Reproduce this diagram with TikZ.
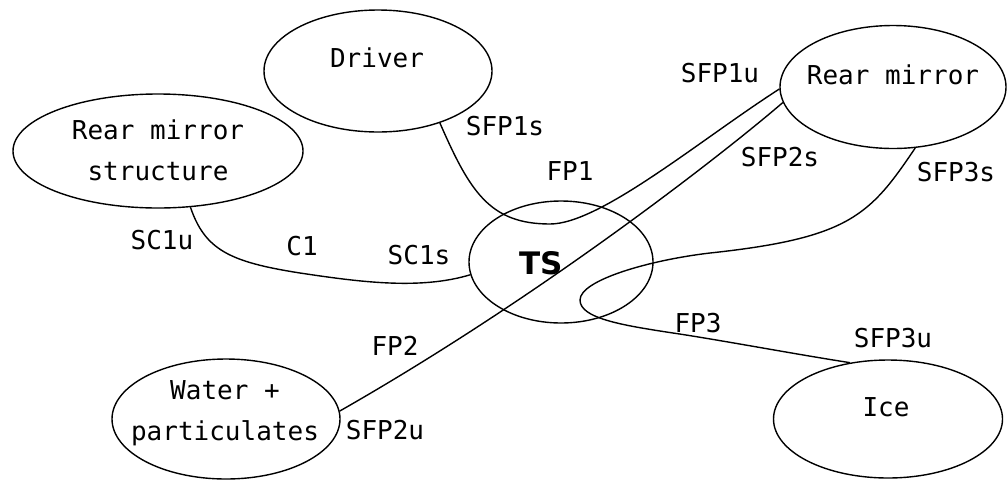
\documentclass[tikz,border=0pt]{standalone}
\usepackage{fontspec}
\setmonofont{DejaVu Sans Mono}
\newfontfamily\tsfont{DejaVu Sans}
\usetikzlibrary{shapes.geometric}
\begin{document}
\begin{tikzpicture}[x=1pt,y=-1pt,
  obj/.style={ellipse,draw,line width=1.4pt,inner sep=0pt},
  txt/.style={font=\ttfamily\fontsize{26}{41}\selectfont,inner sep=0pt,align=center},
  lab/.style={font=\ttfamily\fontsize{26}{41}\selectfont,inner sep=0pt},
  link/.style={line width=1.4pt}]
\useasboundingbox (0,0) rectangle (1008,480);
% objects
\node[obj,minimum width=228pt,minimum height=122pt] (driver) at (378,71) {};
\node[obj,minimum width=290pt,minimum height=114pt] (rms) at (158,151) {};
\node[obj,minimum width=184pt,minimum height=122pt] (ts) at (561,262) {};
\node[obj,minimum width=226pt,minimum height=123pt] (rm) at (893,87) {};
\node[obj,minimum width=228pt,minimum height=120pt] (water) at (226,419) {};
\node[obj,minimum width=229pt,minimum height=118pt] (ice) at (888,419) {};
% texts
\node[txt] (tdriver) at (377,58) {Driver};
\node[txt] (trms) at (158,150) {Rear mirror\\structure};
\node[font=\tsfont\bfseries\fontsize{31}{31}\selectfont,inner sep=0pt] (tts) at (541,263) {TS};
\node[txt] (trm) at (893,75) {Rear mirror};
\node[txt] (twater) at (225,413) {Water +\\particulates};
\node[txt] (tice) at (886,407) {Ice};
% connectors
\draw[link] (driver.-40) .. controls (470,192) and (490,224) .. (550,224)
  .. controls (600,224) and (700,140) .. (rm.181);
\draw[link] (water.4) .. controls (540,297) and (723,154) .. (rm.188);
\draw[link] (rm.-70) .. controls (870,215) and (850,238) .. (710,253)
  .. controls (650,260) and (580,280) .. (580,300)
  .. controls (580,318) and (620,325) .. (673,333)
  .. controls (720,340) and (800,355) .. (ice.124);
\draw[link] (rms.-60) .. controls (205,250) and (230,262) .. (300,273)
  .. controls (360,282) and (420,290) .. (ts.188);
% labels
\node[lab] (lsfp1s) at (505,126) {SFP1s};
\node[lab] (lfp1) at (570,171) {FP1};
\node[lab] (lsfp1u) at (720,73) {SFP1u};
\node[lab] (lsfp2s) at (780,157) {SFP2s};
\node[lab] (lsfp3s) at (956,172) {SFP3s};
\node[lab] (lfp3) at (698,323) {FP3};
\node[lab] (lsfp3u) at (893,338) {SFP3u};
\node[lab] (lsc1u) at (162,240) {SC1u};
\node[lab] (lc1) at (302,246) {C1};
\node[lab] (lsc1s) at (419,255) {SC1s};
\node[lab] (lfp2) at (395,346) {FP2};
\node[lab] (lsfp2u) at (385,430) {SFP2u};
\end{tikzpicture}
\end{document}
